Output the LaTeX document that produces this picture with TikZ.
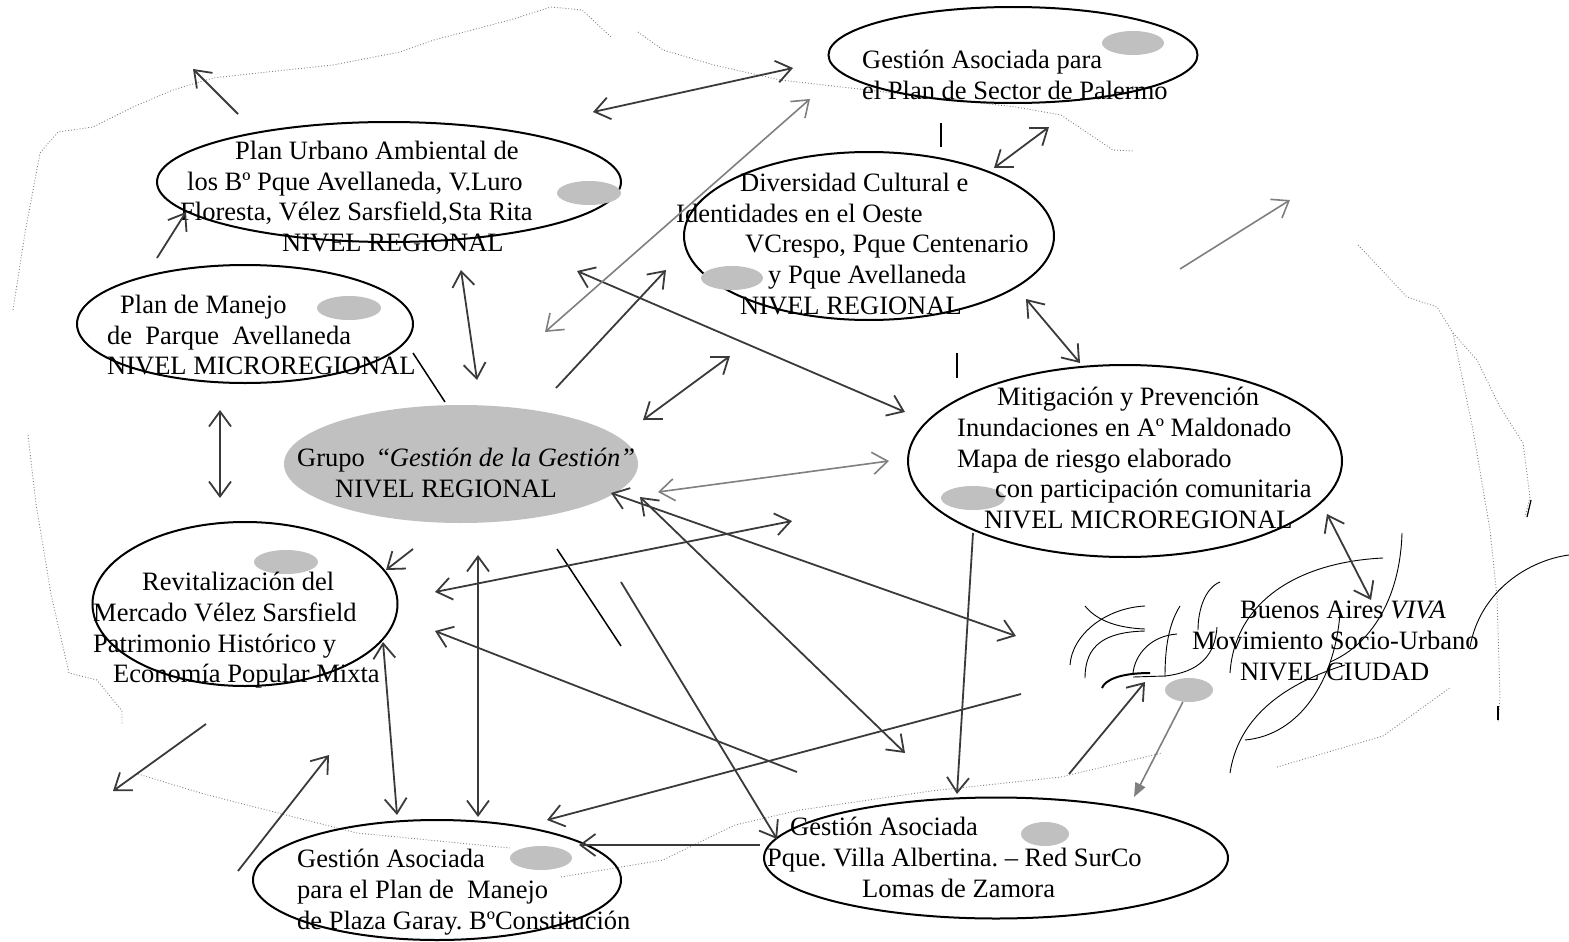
\documentclass[tikz,border=0pt]{standalone}
\usepackage{fontspec}
\setmainfont{Liberation Serif}
\usetikzlibrary{shapes.geometric,arrows.meta,positioning}
\definecolor{arrc}{HTML}{3A3A3A}
\definecolor{lgray}{HTML}{C0C0C0}
\definecolor{mgray}{HTML}{7F7F7F}
\tikzset{
  ell/.style={draw, ellipse, line width=2pt, inner sep=0pt},
  spot/.style={fill=lgray, ellipse, inner sep=0pt, minimum height=24pt},
  txt/.style={anchor=north west, align=left, inner sep=0pt, font=\fontsize{26.5}{30.7}\selectfont},
  barb/.tip={Straight Barb[length=15pt,width=22pt]},
  arr/.style={draw=arrc, line width=1.8pt, -barb},
  dbl/.style={draw=arrc, line width=1.8pt, barb-barb},
  garr/.style={draw=mgray, line width=1.6pt, -barb},
  gdbl/.style={draw=mgray, line width=1.6pt, barb-barb},
  plain/.style={draw=black, line width=1.5pt},
  brd/.style={draw=gray, dotted, line width=0.9pt},
  wisp/.style={draw=black, line width=0.9pt}
}
\frenchspacing
\begin{document}
\begin{tikzpicture}[x=1pt, y=-1pt]
        \useasboundingbox (0,0) rectangle (1569,942);
        % Dotted outline of the region
        \draw[brd] (13,310) -- (25,233) -- (40,153) -- (58,132) -- (93,127) -- (133,107) -- (173,90) -- (213,78) -- (267,72) -- (333,65) -- (400,52) -- (434,40) -- (510,20) -- (551,7) -- (582,10) -- (612,38);
        \draw[brd] (638,32) -- (663,50) -- (714,65) -- (780,80) -- (850,88) -- (1016,107) -- (1061,115) -- (1113,150) -- (1133,151);
        \draw[brd] (1358,245) -- (1407,297) -- (1437,307) -- (1453,333) -- (1473,430) -- (1490,530) -- (1497,597) -- (1500,697) -- (1498,723);
        \draw[brd] (1453,333) -- (1477,360) -- (1500,407) -- (1523,443) -- (1530,497) -- (1525,517);
        \draw[brd] (28,435) -- (36,504) -- (51,594) -- (69,673) -- (97,680) -- (122,711) -- (122,724);
        \draw[brd] (138,774) -- (204,794) -- (286,815) -- (357,833) -- (510,848);
        \draw[brd] (561,877) -- (663,860) -- (735,825) -- (800,810) -- (931,791) -- (1061,777) -- (1162,753);
        \draw[brd] (1277,767) -- (1383,736) -- (1451,687);
        \draw[line width=1.2pt] (1531,500) -- (1527,517);
        \draw[line width=1.2pt] (1498,706) -- (1498,720);

        % Ellipses
        \node[ell, minimum width=464pt, minimum height=120pt] (pua) at (389,182) {};
        \node[ell, minimum width=336pt, minimum height=118pt] (pma) at (245,324) {};
        \node[fill=lgray, ellipse, inner sep=0pt, minimum width=354pt, minimum height=118pt] (ggr) at (461,464) {};
        \node[ell, minimum width=305pt, minimum height=164pt] (rmv) at (245,604) {};
        \node[ell, minimum width=368pt, minimum height=120pt] (gpg) at (437,880) {};
        \node[ell, minimum width=464pt, minimum height=121pt] (gva) at (996,858) {};
        \node[ell, minimum width=434pt, minimum height=192pt] (mit) at (1125,461) {};
        \node[ell, minimum width=370pt, minimum height=168pt] (dco) at (869,236) {};
        \node[ell, minimum width=369pt, minimum height=96pt] (gpp) at (1013,55) {};

        % Gray spots
        \foreach \n/\x/\y/\w in {spa/589/193/64, spb/349/308/64, spd/286/562/64, spe/541/858/62,
                                 spf/1045/834/48, spg/973/498/64, sph/732/278/62, spi/1133/43/62, spj/1189/690/48}
          \node[spot, minimum width=\w pt] (\n) at (\x,\y) {};

        % Texts
        \node[txt] (puat) at (180,141) {\hspace*{55pt}Plan Urbano Ambiental de\\ \hspace*{7pt}los Bº Pque Avellaneda, V.Luro\\ Floresta, Vélez Sarsfield,Sta Rita\\ \hspace*{102pt}NIVEL REGIONAL};
        \node[txt] (pmat) at (107,295) {\hspace*{13pt}Plan de Manejo\\ de\ \ Parque\ \ Avellaneda\\ NIVEL MICROREGIONAL};
        \node[txt] (ggrt) at (297,448) {Grupo\ \ “\textit{Gestión de la Gestión”}\\ \hspace*{38pt}NIVEL REGIONAL};
        \node[txt] (rmvt) at (93,572) {\hspace*{49pt}Revitalización del\\ Mercado Vélez Sarsfield\\ Patrimonio Histórico y\\ \hspace*{20pt}Economía Popular Mixta};
        \node[txt] (gpgt) at (297,849) {Gestión Asociada\\ para el Plan de\ \ Manejo\\ de Plaza Garay. BºConstitución};
        \node[txt] (gvat) at (767,817) {\hspace*{23pt}Gestión Asociada\\ Pque. Villa Albertina. – Red SurCo\\ \hspace*{95pt}Lomas de Zamora};
        \node[txt] (mitt) at (957,387) {\hspace*{40pt}Mitigación y Prevención\\ Inundaciones en Aº Maldonado\\ Mapa de riesgo elaborado\\ \hspace*{38pt}con participación comunitaria\\ \hspace*{27pt}NIVEL MICROREGIONAL};
        \node[txt] (dcot) at (676,173) {\hspace*{64pt}Diversidad Cultural e\\ Identidades en el Oeste\\ \hspace*{69pt}VCrespo, Pque Centenario\\ \hspace*{92pt}y Pque Avellaneda\\ \hspace*{64pt}NIVEL REGIONAL};
        \node[txt] (gppt) at (862,50) {Gestión Asociada para\\ el Plan de Sector de Palermo};
        \node[txt] (bavt) at (1192,601) {\hspace*{48pt}Buenos Aires \textit{VIVA}\\ Movimiento Socio-Urbano\\ \hspace*{48pt}NIVEL CIUDAD};

        % Strokes round Buenos Aires VIVA
        \draw[wisp] (1085,606) .. controls (1098,622) and (1120,628) .. (1145,629);
        \draw[wisp] (1145,606) .. controls (1105,608) and (1072,635) .. (1070,665);
        \draw[wisp] (1085,678) .. controls (1085,645) and (1105,632) .. (1145,631);
        \draw[wisp] (1180,606) .. controls (1168,625) and (1165,650) .. (1165,677);
        \draw[wisp] (1220,582) .. controls (1205,588) and (1198,610) .. (1198,630);
        \draw[wisp] (1177,634) .. controls (1150,636) and (1135,655) .. (1133,673);
        \draw[wisp, line width=2pt] (1150,673) .. controls (1120,673) and (1105,680) .. (1102,688);
        \draw[wisp] (1133,677) -- (1165,676) .. controls (1200,672) and (1215,655) .. (1217,627);
        \draw[wisp] (1383,558) .. controls (1300,562) and (1235,600) .. (1230,673);
        \draw[wisp] (1402,533) .. controls (1400,600) and (1370,645) .. (1330,662);
        \draw[wisp] (1340,613) .. controls (1335,680) and (1300,735) .. (1245,740);
        \draw[wisp] (1230,773) .. controls (1238,720) and (1280,685) .. (1345,665);
        \draw[wisp] (1470,647) .. controls (1480,590) and (1530,560) .. (1569,555);

        % Plain strokes
        \draw[plain] (413,353) -- (445,402);
        \draw[plain] (557,549) -- (621,646);
        \draw[plain] (941,123) -- (941,147);
        \draw[plain] (957,353) -- (957,378);

        % One-way arrows
        \foreach \a/\b/\c/\d in {238/114/193/69, 157/258/186/212, 556/388/666/270, 413/549/386/570,
                                 621/582/777/839, 797/772/435/631, 206/724/113/791, 238/871/329/755,
                                 1021/694/547/820, 760/845/579/845, 973/533/957/794, 1069/774/1145/682}
          \draw[arr] (\a,\b) -- (\c,\d);
        % Two-way arrows
        \foreach \a/\b/\c/\d in {593/112/793/68, 461/270/477/380, 577/271/905/412, 643/420/730/356,
                                 994/168/1049/127, 1026/299/1080/363, 220/410/220/498, 611/493/1016/636,
                                 640/497/905/753, 435/592/792/521, 478/555/478/817, 383/642/397/815,
                                 1327/514/1371/600}
          \draw[dbl] (\a,\b) -- (\c,\d);
        % Gray arrows
        \draw[gdbl] (545,332) -- (810,99);
        \draw[gdbl] (658,492) -- (889,461);
        \draw[garr] (1180,269) -- (1290,200);
        \draw[draw=mgray, line width=1.6pt, -{Triangle[length=14pt,width=11pt]}, fill=mgray] (spj) -- (1134,797);
    \end{tikzpicture}
\end{document}
